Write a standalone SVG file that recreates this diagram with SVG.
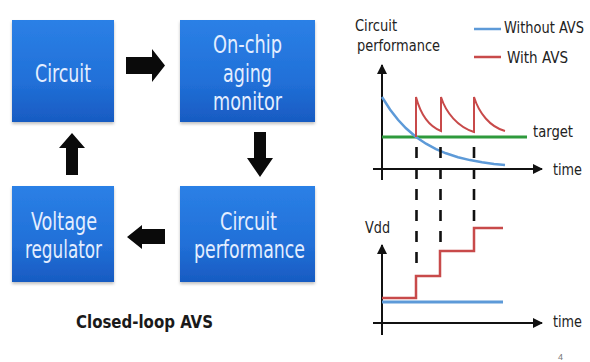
<svg xmlns="http://www.w3.org/2000/svg" width="590" height="362" viewBox="0 0 590 362">
<defs>
<linearGradient id="boxg" x1="0" y1="0" x2="0" y2="1">
<stop offset="0" stop-color="#2b80e6"/>
<stop offset="0.6" stop-color="#2170d8"/>
<stop offset="1" stop-color="#185bc2"/>
</linearGradient>
<filter id="sh" x="-10%" y="-10%" width="120%" height="125%">
<feDropShadow dx="0" dy="2" stdDeviation="1.5" flood-color="#000" flood-opacity="0.25"/>
</filter>
<marker id="ah" viewBox="0 0 10 10" refX="9" refY="5" markerWidth="10" markerHeight="10" markerUnits="userSpaceOnUse" orient="auto">
<path d="M0,0 L10,5 L0,10 z" fill="#111"/>
</marker>
</defs>
<style>
.box{fill:url(#boxg);filter:url(#sh)}
.bt{font-family:"DejaVu Sans Condensed","Liberation Sans",sans-serif;font-size:24px;fill:#e4eeff;text-anchor:middle}
.lbl{font-family:"DejaVu Sans Condensed","Liberation Sans",sans-serif;font-size:16px;fill:#222}
.blk{fill:#0a0a0a}
.axis{stroke:#111;stroke-width:2;fill:none}
.dash{stroke:#111;stroke-width:2.6;stroke-dasharray:11 10;fill:none}
.blue{stroke:#5d9ad8;stroke-width:2.5;fill:none}
.red{stroke:#c84a4a;stroke-width:2;fill:none}
.green{stroke:#2e9a3c;stroke-width:3;fill:none}
</style>
<rect width="590" height="362" fill="#ffffff"/>

<g id="node-circuit">
<rect class="box" x="12" y="20" width="102" height="102"/>
<text class="bt" x="63" y="82" textLength="56" lengthAdjust="spacingAndGlyphs">Circuit</text>
</g>
<g id="node-monitor">
<rect class="box" x="180" y="20" width="135" height="102"/>
<text class="bt" x="247.5" y="53" textLength="69" lengthAdjust="spacingAndGlyphs">On-chip</text>
<text class="bt" x="247.5" y="82" textLength="49" lengthAdjust="spacingAndGlyphs">aging</text>
<text class="bt" x="247.5" y="110" textLength="69" lengthAdjust="spacingAndGlyphs">monitor</text>
</g>
<g id="node-regulator">
<rect class="box" x="12" y="186" width="102" height="96"/>
<text class="bt" x="64" y="230" textLength="66" lengthAdjust="spacingAndGlyphs">Voltage</text>
<text class="bt" x="63.5" y="258" textLength="77" lengthAdjust="spacingAndGlyphs">regulator</text>
</g>
<g id="node-performance">
<rect class="box" x="180" y="186" width="135" height="96"/>
<text class="bt" x="248.5" y="230" textLength="57" lengthAdjust="spacingAndGlyphs">Circuit</text>
<text class="bt" x="249.5" y="258" textLength="111" lengthAdjust="spacingAndGlyphs">performance</text>
</g>

<g id="connectors">
<polygon class="blk" points="126,57 152,57 152,49 165,65.5 152,82 152,74 126,74"/>
<polygon class="blk" points="254,132 266,132 266,158 273,158 260,177 247,158 254,158"/>
<polygon class="blk" points="165,229 142,229 142,225 127,237 142,249 142,244 165,244"/>
<polygon class="blk" points="66,175 78,175 78,148 85,148 72,133 59,148 66,148"/>
</g>

<text id="caption" x="76" y="328" textLength="137" lengthAdjust="spacingAndGlyphs" style="font-family:'DejaVu Sans Condensed','Liberation Sans',sans-serif;font-size:18px;font-weight:bold;fill:#1a1a1a">Closed-loop AVS</text>

<g id="chart-top">
<text class="lbl" x="355" y="31" textLength="42" lengthAdjust="spacingAndGlyphs">Circuit</text>
<text class="lbl" x="357" y="51" textLength="83" lengthAdjust="spacingAndGlyphs">performance</text>
<line class="blue" x1="474" y1="29" x2="501" y2="29"/>
<text class="lbl" x="504" y="33" textLength="80" lengthAdjust="spacingAndGlyphs" style="font-size:15px">Without AVS</text>
<line class="red" x1="474" y1="57" x2="501" y2="57" style="stroke-width:2.5"/>
<text class="lbl" x="507" y="63" textLength="61" lengthAdjust="spacingAndGlyphs">With AVS</text>
<line class="axis" x1="382" y1="180" x2="382" y2="65" marker-end="url(#ah)"/>
<line class="axis" x1="373" y1="169" x2="542" y2="169" marker-end="url(#ah)"/>
<line class="green" x1="382" y1="137" x2="527" y2="137"/>
<text class="lbl" x="533" y="137" textLength="40" lengthAdjust="spacingAndGlyphs">target</text>
<text class="lbl" x="553" y="175" textLength="29" lengthAdjust="spacingAndGlyphs">time</text>
<polyline class="blue" points="382,97 390,109.5 398,119.8 406,128.3 416,137 426,143.7 436,149.1 446,153.3 458,157.2 470,160.1 482,162.3 494,164 505,165.1"/>
<path class="red" d="M416,137 L416,97 C420,112 428,126 441,131 L441,97 C446,113 458,127 474,132 L474,97 C479,113 490,127 505,131"/>
</g>

<g id="dashes">
<line class="dash" x1="416.5" y1="147" x2="416.5" y2="264"/>
<line class="dash" x1="440.5" y1="147" x2="440.5" y2="243"/>
<line class="dash" x1="474" y1="147" x2="474" y2="222"/>
</g>

<g id="chart-bottom">
<text class="lbl" x="365" y="233" textLength="25" lengthAdjust="spacingAndGlyphs">Vdd</text>
<line class="axis" x1="382" y1="335" x2="382" y2="245" marker-end="url(#ah)"/>
<line class="axis" x1="373" y1="323" x2="542" y2="323" marker-end="url(#ah)"/>
<text class="lbl" x="553" y="327" textLength="29" lengthAdjust="spacingAndGlyphs">time</text>
<line class="blue" x1="382" y1="302" x2="503" y2="302" style="stroke-width:3"/>
<polyline class="red" style="stroke-width:2.5" points="382,298 416,298 416,276 440,276 440,251 474,251 474,228 503,228"/>
</g>

<text x="558" y="360" style="font-family:'Liberation Sans',sans-serif;font-size:9px;fill:#777">4</text>
</svg>
